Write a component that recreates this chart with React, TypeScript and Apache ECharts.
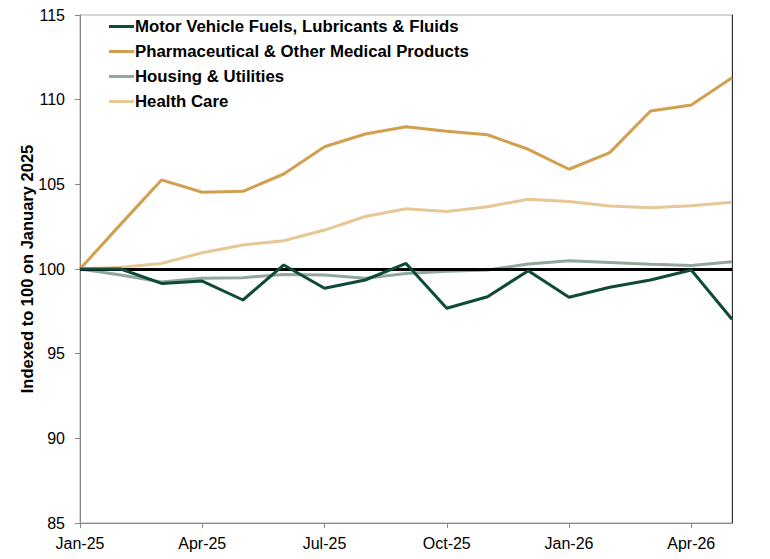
import React, { useEffect, useRef } from "react";
import * as echarts from "echarts";

const months = [
  "Jan-25", "Feb-25", "Mar-25", "Apr-25", "May-25", "Jun-25", "Jul-25", "Aug-25", "Sep-25",
  "Oct-25", "Nov-25", "Dec-25", "Jan-26", "Feb-26", "Mar-26", "Apr-26", "May-26",
];

const motorFuels = [100, 100.0, 99.15, 99.29, 98.17, 100.24, 98.86, 99.35, 100.33, 97.68, 98.36, 99.9, 98.33, 98.92, 99.35, 99.94, 97.03];
const pharma = [100, 102.65, 105.26, 104.53, 104.59, 105.61, 107.22, 107.97, 108.4, 108.13, 107.93, 107.07, 105.89, 106.87, 109.33, 109.69, 111.3];
const housing = [100, 99.65, 99.23, 99.45, 99.49, 99.68, 99.65, 99.45, 99.74, 99.86, 99.94, 100.3, 100.49, 100.39, 100.28, 100.2, 100.43];
const healthCare = [100, 100.1, 100.33, 100.96, 101.42, 101.67, 102.3, 103.1, 103.56, 103.4, 103.68, 104.12, 103.98, 103.72, 103.62, 103.74, 103.94];

const seriesNames = [
  "Motor Vehicle Fuels, Lubricants & Fluids",
  "Pharmaceutical & Other Medical Products",
  "Housing & Utilities",
  "Health Care",
];
const colors = ["#0E4A38", "#D1A04E", "#8FA89A", "#E8C796"];
const baseline = 100;

export default function App() {
  const ref = useRef<HTMLDivElement>(null);
  useEffect(() => {
    if (!ref.current) return;
    const chart = echarts.init(ref.current, undefined, { renderer: "svg" });
    const font = "'Liberation Sans', Arial, sans-serif";
    const datas = [motorFuels, pharma, housing, healthCare];
    const series: any[] = datas.map((d, i) => ({
      name: seriesNames[i],
      type: "line",
      data: d,
      symbol: "none",
      lineStyle: { color: colors[i], width: 3 },
      itemStyle: { color: colors[i] },
      z: i === 0 ? 6 : 4,
      ...(i === 3
        ? {
            markLine: {
              silent: true,
              symbol: "none",
              label: { show: false },
              lineStyle: { color: "#000", width: 3, type: "solid" },
              data: [{ yAxis: baseline }],
              z: 5,
            },
          }
        : {}),
    }));
    chart.setOption({
      animation: false,
      color: colors,
      grid: {
        left: 80,
        right: 38,
        top: 15,
        bottom: 36,
        show: true,
        borderColor: "#aaa",
        borderWidth: 1,
      },
      legend: {
        left: 104,
        top: 12,
        orient: "vertical",
        itemGap: 6,
        itemWidth: 25,
        itemHeight: 3,
        icon: "rect",
        data: seriesNames,
        textStyle: { fontFamily: font, fontSize: 16.8, fontWeight: "bold", color: "#000", padding: [0, 0, 0, -4], lineHeight: 19 },
      },
      xAxis: {
        type: "category",
        data: months,
        boundaryGap: false,
        axisLine: { lineStyle: { color: "#888", width: 1 } },
        axisTick: { show: true, interval: 2, length: 5, lineStyle: { color: "#888" } },
        axisLabel: { interval: 2, fontFamily: font, fontSize: 16, color: "#000", margin: 12 },
        splitLine: { show: false },
      },
      yAxis: [
        {
          type: "value",
          min: 85,
          max: 115,
          interval: 5,
          name: "Indexed to 100 on January 2025",
          nameLocation: "middle",
          nameGap: 45,
          nameMoveOverlap: false,
          nameTextStyle: { fontFamily: font, fontSize: 16.5, fontWeight: "bold", color: "#000" },
          axisLine: { show: true, lineStyle: { color: "#888", width: 1 } },
          axisTick: { show: true, length: 5, lineStyle: { color: "#888" } },
          axisLabel: { fontFamily: font, fontSize: 16, color: "#000", margin: 15 },
          splitLine: { show: false },
        },
        {
          type: "value",
          min: 85,
          max: 115,
          interval: 5,
          position: "right",
          axisLine: { show: true, lineStyle: { color: "#333", width: 1 } },
          axisTick: { show: false },
          axisLabel: { show: false },
          splitLine: { show: false },
        },
      ],
      series,
    });
    return () => chart.dispose();
  }, []);
  return <div ref={ref} style={{ width: 770, height: 559, position: "absolute", left: 0, top: 0 }} />;
}
